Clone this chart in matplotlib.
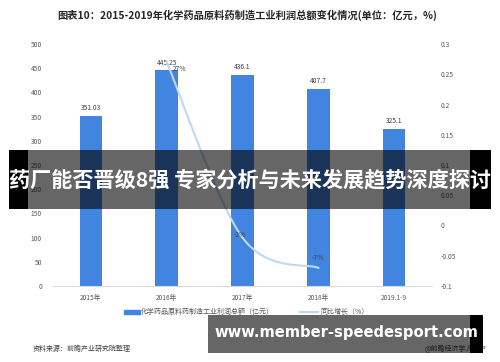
import numpy as np
import matplotlib
matplotlib.use("Agg")
import matplotlib.pyplot as plt
from matplotlib.patches import Rectangle
from matplotlib.lines import Line2D

plt.rcParams['font.family'] = ['Noto Sans CJK SC', 'DejaVu Sans']

categories = ["2015年", "2016年", "2017年", "2018年", "2019.1-9"]
profit = [351.03, 445.25, 436.1, 407.7, 325.1]
profit_labels = ["351.03", "445.25", "436.1", "407.7", "325.1"]
growth_idx = [1, 2, 3]
growth = [0.27, -0.02, -0.07]
growth_labels = ["27%", "-2%", "-7%"]
left_ticks = [0, 50, 100, 150, 200, 250, 300, 350, 400, 450, 500]
right_ticks = [-0.1, -0.05, 0, 0.05, 0.1, 0.15, 0.2, 0.25, 0.3]
right_labels = ["-0.1", "-0.05", "0", "0.05", "0.1", "0.15", "0.2", "0.25", "0.3"]

W, H = 500, 362
fig = plt.figure(figsize=(W / 100, H / 100), dpi=100)

def fx(x):
    return x / W

def fy(y):
    return 1 - y / H

bar_color = "#4285e0"
line_color = "#bdd8f5"
txt = "#595959"

ax = fig.add_axes([fx(53), fy(286), fx(432) - fx(53), fy(44) - fy(286)])
x = np.arange(len(categories))
ax.bar(x, profit, width=0.3, color=bar_color, zorder=2)
ax.set_xlim(-0.5, len(categories) - 0.5)
ax.set_ylim(0, 500)
ax.set_yticks(left_ticks)
ax.set_yticklabels([str(t) for t in left_ticks])
ax.set_xticks(x)
ax.set_xticklabels(categories)
ax.tick_params(axis='both', length=0, labelsize=4.8, colors=txt)
ax.tick_params(axis='y', pad=8)
ax.tick_params(axis='x', pad=6)
for s in ['top', 'right', 'left']:
    ax.spines[s].set_visible(False)
ax.spines['bottom'].set_color("#d9d9d9")
ax.spines['bottom'].set_linewidth(0.8)
for xi, v, lab in zip(x, profit, profit_labels):
    ax.text(xi, v + 8, lab, ha='center', va='bottom', fontsize=4.8, color="#404040")

ax2 = ax.twinx()
ax2.set_ylim(-0.1, 0.3)
ax2.set_yticks(right_ticks)
ax2.set_yticklabels(right_labels)
ax2.tick_params(axis='y', length=0, labelsize=4.8, colors=txt, pad=6)
for s in ['top', 'right', 'left', 'bottom']:
    ax2.spines[s].set_visible(False)

# smoothed line (Catmull-Rom style, like Excel smoothing)
px = np.array(growth_idx, dtype=float)
py = np.array(growth, dtype=float)
pts = np.column_stack([px, py])
ext = np.vstack([pts[0], pts, pts[-1]])
curve = []
for i in range(1, len(ext) - 2):
    p0, p1, p2, p3 = ext[i - 1], ext[i], ext[i + 1], ext[i + 2]
    t = np.linspace(0, 1, 40)[:, None]
    c = 0.5 * ((2 * p1) + (-p0 + p2) * t + (2 * p0 - 5 * p1 + 4 * p2 - p3) * t ** 2
               + (-p0 + 3 * p1 - 3 * p2 + p3) * t ** 3)
    curve.append(c)
curve = np.vstack(curve)
ax2.plot(curve[:, 0], curve[:, 1], color=line_color, lw=1.5, zorder=3)
ax2.text(px[0] + 0.08, py[0] - 0.012, growth_labels[0], fontsize=4.8, color="#404040", ha='left', va='center')
ax2.text(px[1] - 0.04, py[1] + 0.005, growth_labels[1], fontsize=4.8, color="#404040", ha='center', va='center')
ax2.text(px[2], py[2] + 0.016, growth_labels[2], fontsize=4.8, color="#404040", ha='center', va='center')

# title
fig.text(fx(247), fy(15), "图表10：2015-2019年化学药品原料药制造工业利润总额变化情况(单位：亿元，%)",
         ha='center', va='center', fontsize=7.4, fontweight='bold', color="#262626")

# legend
fig.add_artist(Rectangle((fx(124), fy(314)), fx(16), fy(310) - fy(314), transform=fig.transFigure,
                         color=bar_color))
fig.text(fx(141), fy(312), "化学药品原料药制造工业利润总额（亿元）", ha='left', va='center', fontsize=5, color=txt)
fig.add_artist(Line2D([fx(300), fx(318)], [fy(312), fy(312)], transform=fig.transFigure,
                      color=line_color, lw=1.5))
fig.text(fx(320), fy(312), "同比增长（%）", ha='left', va='center', fontsize=5, color=txt)

# source
fig.text(fx(33), fy(349), "资料来源：前瞻产业研究院整理", ha='left', va='center', fontsize=5, color="#404040")
fig.text(fx(486), fy(349), "@前瞻经济学人APP", ha='right', va='center', fontsize=5, color="#404040")

# middle banner overlay
fig.add_artist(Rectangle((fx(9), fy(209)), fx(19), fy(150) - fy(209), transform=fig.transFigure,
                         color="black", zorder=10, lw=0))
fig.add_artist(Rectangle((fx(28), fy(209)), fx(470) - fx(28), fy(150) - fy(209), transform=fig.transFigure,
                         color="black", alpha=0.6, zorder=10, lw=0))
fig.add_artist(Rectangle((fx(470), fy(209)), fx(491) - fx(470), fy(150) - fy(209), transform=fig.transFigure,
                         color="black", zorder=10, lw=0))
fig.text(fx(250), fy(181), "药厂能否晋级8强 专家分析与未来发展趋势深度探讨", ha='center', va='center',
         fontsize=15.2, fontweight='bold', color="white", zorder=11)

# bottom banner overlay
fig.add_artist(Rectangle((fx(208), fy(353)), fx(470) - fx(208), fy(315) - fy(353), transform=fig.transFigure,
                         color="black", alpha=0.6, zorder=10, lw=0))
fig.add_artist(Rectangle((fx(470), fy(353)), fx(483) - fx(470), fy(315) - fy(353), transform=fig.transFigure,
                         color="black", zorder=10, lw=0))
fig.text(fx(346), fy(333), "www.member-speedesport.com", ha='center', va='center',
         fontsize=10.6, fontweight='bold', color="white", zorder=11, family=['DejaVu Sans'])

fig.savefig("out.png", dpi=100)
